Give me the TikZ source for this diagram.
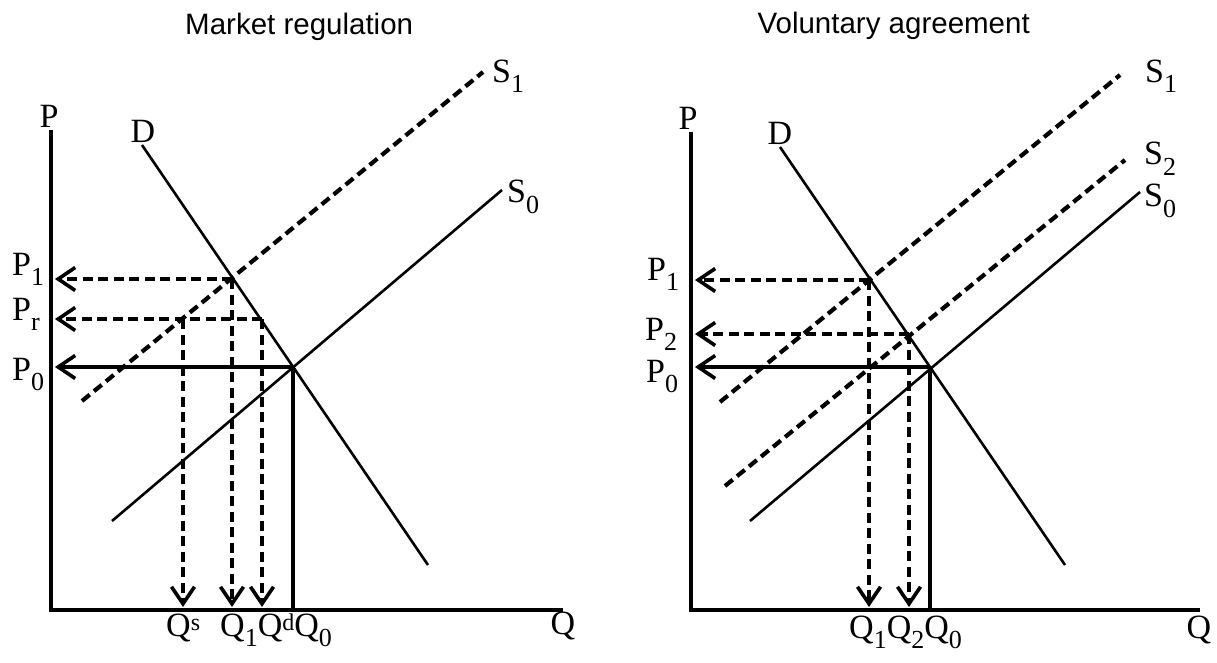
\documentclass[tikz,border=0pt]{standalone}
\usepackage{fontspec}
\setmainfont{Liberation Serif}
\newfontfamily\arialf{Liberation Sans}
\usetikzlibrary{arrows.meta}
\newcommand{\sbs}[1]{\raisebox{-10pt}{\fontsize{26}{26}\selectfont #1}}
\newcommand{\sps}[1]{\raisebox{6pt}{\fontsize{24}{24}\selectfont #1}}
\begin{document}
\begin{tikzpicture}[x=1pt,y=-1pt,
  axisline/.style={line width=3.2pt},
  curve/.style={line width=2.6pt},
  dline/.style={line width=4.2pt, dash pattern=on 10pt off 5.5pt},
  arr/.style={-{Straight Barb[length=17pt,width=23pt,line width=3.6pt]}},
  lbl/.style={inner sep=0pt, font=\fontsize{34}{34}\selectfont, anchor=base west},
  ttl/.style={inner sep=0pt, font=\arialf\fontsize{29.5}{29.5}\selectfont}]
\useasboundingbox (0,0) rectangle (1217,663);

% titles
\node[ttl, anchor=base west] (t1) at (185,35) {Market regulation};
\node[ttl, anchor=base east] (t2) at (1030,34) {Voluntary agreement};

% ---------------- left panel ----------------
\coordinate (Ltop) at (51,130);
\coordinate (LO) at (51,610);
\coordinate (Lend) at (563,610);
\coordinate (LDa) at (142,145);
\coordinate (LDb) at (428,565);
\coordinate (LS0a) at (112,521);
\coordinate (LS0b) at (502,190);
\coordinate (LS1a) at (82,401);
\coordinate (LS1b) at (483,72);
\coordinate (LE0) at (293,367);
\coordinate (LE1) at (232,279);
\coordinate (LRs) at (183,319);
\coordinate (LRd) at (262,319);
\coordinate (LP1) at (55,279);
\coordinate (LPr) at (55,319);
\coordinate (LP0) at (55,367);
\coordinate (LQs) at (183,607);
\coordinate (LQ1) at (232,607);
\coordinate (LQd) at (262,607);
\coordinate (LQ0) at (293,610);

\draw[axisline] (Ltop) -- (LO) -- (Lend);
\draw[curve] (LDa) -- (LDb);
\draw[curve] (LS0a) -- (LS0b);
\draw[dline] (LS1a) -- (LS1b);
\draw[axisline, arr] (LE0) -- (LP0);
\draw[axisline] (LE0) -- (LQ0);
\draw[dline, arr] (LE1) -- (LP1);
\draw[dline, arr] (LRd) -- (LPr);
\draw[dline, arr] (LRs) -- (LQs);
\draw[dline, arr] (LE1) -- (LQ1);
\draw[dline, arr] (LRd) -- (LQd);

\node[lbl, anchor=base] (lP) at (49,128) {P};
\node[lbl, anchor=base] (lD) at (143,143) {D};
\node[lbl] (lS1) at (492,83) {S\sbs{1}};
\node[lbl] (lS0) at (507,203) {S\sbs{0}};
\node[lbl] (lP1) at (12,275) {P\sbs{1}};
\node[lbl] (lPr) at (12,320) {P\sbs{r}};
\node[lbl] (lP0) at (12,380) {P\sbs{0}};
\node[lbl] (lQs) at (166,636) {Q\sps{s}};
\node[lbl] (lQ1) at (220,636) {Q\sbs{1}Q\sps{d}Q\sbs{0}};
\node[lbl, anchor=base] (lQ) at (563,634) {Q};

% ---------------- right panel ----------------
\coordinate (Rtop) at (691,132);
\coordinate (RO) at (691,610);
\coordinate (Rend) at (1200,610);
\coordinate (RDa) at (780,147);
\coordinate (RDb) at (1065,565);
\coordinate (RS1a) at (720,402);
\coordinate (RS1b) at (1120,75);
\coordinate (RS2a) at (725,486);
\coordinate (RS2b) at (1125,160);
\coordinate (RS0a) at (750,521);
\coordinate (RS0b) at (1140,192);
\coordinate (RE0) at (930,367);
\coordinate (RE1) at (869,280);
\coordinate (RE2) at (909,334);
\coordinate (RP1) at (695,280);
\coordinate (RP2) at (695,334);
\coordinate (RP0) at (695,367);
\coordinate (RQ1) at (869,607);
\coordinate (RQ2) at (909,607);
\coordinate (RQ0) at (930,610);

\draw[axisline] (Rtop) -- (RO) -- (Rend);
\draw[curve] (RDa) -- (RDb);
\draw[curve] (RS0a) -- (RS0b);
\draw[dline] (RS1a) -- (RS1b);
\draw[dline] (RS2a) -- (RS2b);
\draw[axisline, arr] (RE0) -- (RP0);
\draw[axisline] (RE0) -- (RQ0);
\draw[dline, arr] (RE1) -- (RP1);
\draw[dline, arr] (RE2) -- (RP2);
\draw[dline, arr] (RE1) -- (RQ1);
\draw[dline, arr] (RE2) -- (RQ2);

\node[lbl, anchor=base] (rP) at (688,130) {P};
\node[lbl, anchor=base] (rD) at (780,145) {D};
\node[lbl] (rS1) at (1145,83) {S\sbs{1}};
\node[lbl] (rS2) at (1144,165) {S\sbs{2}};
\node[lbl] (rS0) at (1144,207) {S\sbs{0}};
\node[lbl] (rP1) at (647,280) {P\sbs{1}};
\node[lbl] (rP2) at (645,340) {P\sbs{2}};
\node[lbl] (rP0) at (646,382) {P\sbs{0}};
\node[lbl] (rQ1) at (849,638) {Q\sbs{1}Q\sbs{2}Q\sbs{0}};
\node[lbl, anchor=base] (rQ) at (1199,638) {Q};
\end{tikzpicture}
\end{document}
